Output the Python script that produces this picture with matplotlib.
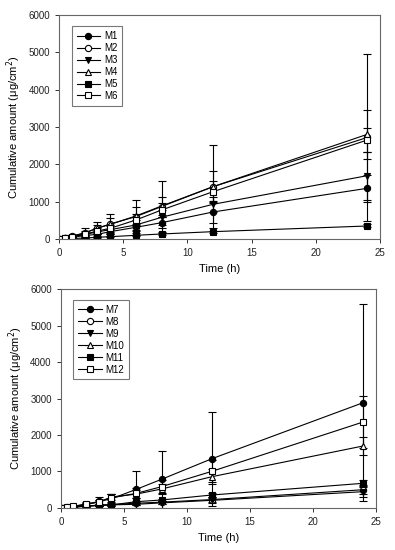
import numpy as np
import matplotlib.pyplot as plt

plt.rcParams['font.family'] = ['Liberation Sans', 'DejaVu Sans']

t = [0, 0.5, 1, 2, 3, 4, 6, 8, 12, 24]

# formulations M1-M6 (mean, sd)
m1 = [0, 20, 45, 90, 125, 196, 313, 437, 723, 1358]
m1_sd = [0, 5, 10, 30, 40, 60, 90, 150, 290, 360]
m2 = [0, 30, 70, 160, 290, 400, 600, 870, 1401, 2720]
m2_sd = [0, 10, 25, 140, 170, 270, 450, 690, 1117, 2250]
m3 = [0, 25, 55, 120, 190, 250, 375, 581, 929, 1696]
m3_sd = [0, 8, 15, 40, 60, 90, 130, 200, 200, 640]
m4 = [0, 30, 75, 160, 290, 393, 616, 884, 1401, 2804]
m4_sd = [0, 10, 20, 60, 80, 160, 230, 250, 420, 650]
m5 = [0, 5, 12, 25, 45, 62, 98, 134, 196, 348]
m5_sd = [0, 2, 4, 8, 10, 15, 20, 25, 30, 40]
m6 = [0, 28, 65, 125, 214, 286, 509, 777, 1267, 2652]
m6_sd = [0, 8, 20, 50, 70, 100, 150, 200, 300, 310]

# formulations M7-M12
m7 = [0, 15, 35, 90, 183, 250, 512, 786, 1351, 2885]
m7_sd = [0, 5, 15, 80, 120, 120, 510, 784, 1288, 2695]
m8 = [0, 12, 25, 55, 75, 95, 130, 160, 230, 500]
m8_sd = [0, 4, 8, 15, 20, 25, 35, 45, 60, 120]
m9 = [0, 10, 22, 45, 65, 85, 101, 140, 210, 447]
m9_sd = [0, 3, 6, 12, 18, 22, 30, 40, 60, 150]
m10 = [0, 20, 45, 100, 160, 300, 381, 520, 858, 1699]
m10_sd = [0, 6, 12, 30, 50, 84, 100, 130, 200, 255]
m11 = [0, 10, 25, 55, 75, 82, 173, 219, 356, 676]
m11_sd = [0, 3, 6, 12, 18, 20, 30, 40, 60, 100]
m12 = [0, 20, 45, 110, 167, 274, 402, 584, 1005, 2356]
m12_sd = [0, 6, 12, 40, 60, 110, 140, 180, 300, 720]

marker_styles = [('o', 'black'), ('o', 'white'), ('v', 'black'),
                 ('^', 'white'), ('s', 'black'), ('s', 'white')]

panels = [
    ([0.149, 0.5655, 0.813, 0.407],
     ['M1', 'M2', 'M3', 'M4', 'M5', 'M6'],
     [m1, m2, m3, m4, m5, m6],
     [m1_sd, m2_sd, m3_sd, m4_sd, m5_sd, m6_sd]),
    ([0.154, 0.0764, 0.797, 0.398],
     ['M7', 'M8', 'M9', 'M10', 'M11', 'M12'],
     [m7, m8, m9, m10, m11, m12],
     [m7_sd, m8_sd, m9_sd, m10_sd, m11_sd, m12_sd]),
]

fig = plt.figure(figsize=(3.95, 5.5), dpi=100)

for pos, names, means, sds in panels:
    ax = fig.add_axes(pos)
    for name, y, sd, (mk, fc) in zip(names, means, sds, marker_styles):
        ax.errorbar(t, y, yerr=sd, color='black', lw=0.8, elinewidth=0.8,
                    capsize=3, capthick=0.8, marker=mk, markersize=4.5,
                    markerfacecolor=fc, markeredgecolor='black',
                    markeredgewidth=0.8, label=name)
    ax.set_xlim(0, 25)
    ax.set_ylim(0, 6000)
    ax.set_xticks([0, 5, 10, 15, 20, 25])
    ax.set_yticks([0, 1000, 2000, 3000, 4000, 5000, 6000])
    ax.tick_params(labelsize=7, length=3, width=0.7, direction='out',
                   colors='#333333', labelcolor='#222222')
    for s in ax.spines.values():
        s.set_color('#666666')
        s.set_linewidth(0.8)
    ax.set_xlabel('Time (h)', fontsize=8)
    ax.set_ylabel('Cumulative amount (\u03bcg/cm$^2$)', fontsize=8)
    handles, labels = ax.get_legend_handles_labels()
    handles = [h[0] for h in handles]
    leg = ax.legend(handles, labels, loc='upper left',
                    bbox_to_anchor=(0.04, 0.95), borderaxespad=0,
                    fontsize=7, frameon=True, fancybox=False,
                    handlelength=2.4, labelspacing=0.2, borderpad=0.5,
                    handletextpad=0.4)
    leg.get_frame().set_edgecolor('#555555')
    leg.get_frame().set_linewidth(0.8)

fig.savefig('out.png', dpi=100)
